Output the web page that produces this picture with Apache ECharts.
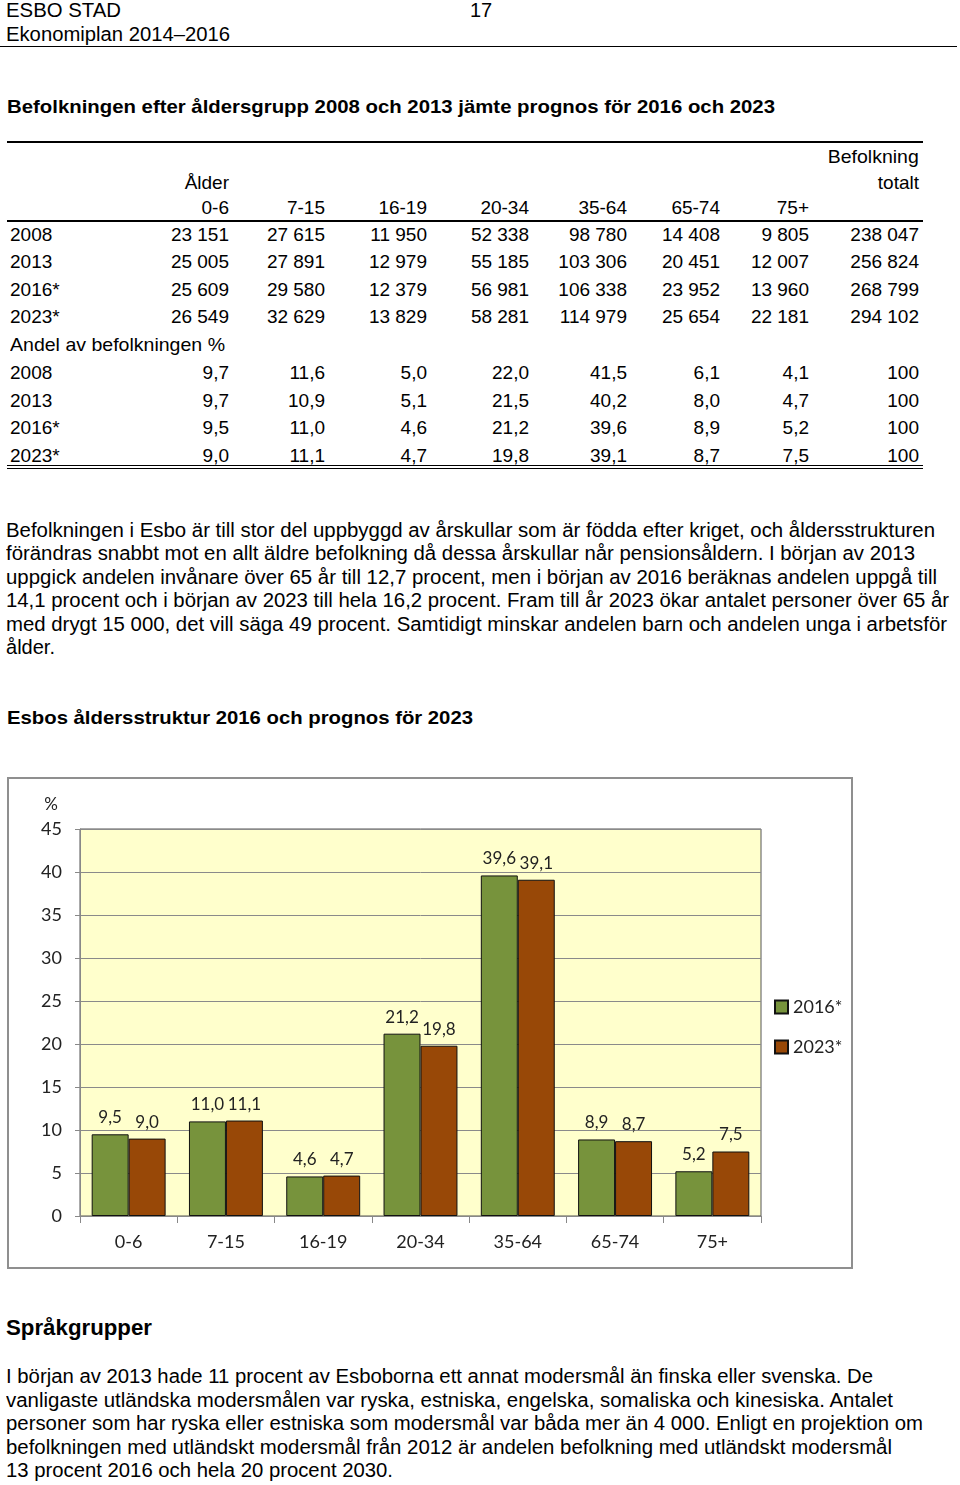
<!DOCTYPE html>
<html><head><meta charset="utf-8">
<script src="https://cdn.jsdelivr.net/npm/echarts@6/dist/echarts.min.js"></script>
<style>
html,body{margin:0;padding:0;background:#fff;}
body{width:960px;height:1485px;position:relative;overflow:hidden;font-family:"Liberation Sans",Arial,sans-serif;color:#000;}
.t{position:absolute;white-space:nowrap;}
.hl{position:absolute;background:#000;}
#chartBox{position:absolute;left:7px;top:777px;width:846px;height:492px;box-sizing:border-box;border:2px solid #8f8f8f;}
#chart{position:absolute;left:7px;top:777px;width:846px;height:492px;}
</style></head>
<body>
<div id="chart"></div>
<div id="chartBox"></div>
<script>
// ---------- data ----------
const ageGroups = ['0-6','7-15','16-19','20-34','35-64','65-74','75+'];
const tableYears = ['2008','2013','2016*','2023*'];
const counts2008 = ['23 151','27 615','11 950','52 338','98 780','14 408','9 805','238 047'];
const counts2013 = ['25 005','27 891','12 979','55 185','103 306','20 451','12 007','256 824'];
const counts2016 = ['25 609','29 580','12 379','56 981','106 338','23 952','13 960','268 799'];
const counts2023 = ['26 549','32 629','13 829','58 281','114 979','25 654','22 181','294 102'];
const share2008 = ['9,7','11,6','5,0','22,0','41,5','6,1','4,1','100'];
const share2013 = ['9,7','10,9','5,1','21,5','40,2','8,0','4,7','100'];
const share2016 = ['9,5','11,0','4,6','21,2','39,6','8,9','5,2','100'];
const share2023 = ['9,0','11,1','4,7','19,8','39,1','8,7','7,5','100'];
const seriesNames = ['2016*','2023*'];
const values2016 = [9.5, 11.0, 4.6, 21.2, 39.6, 8.9, 5.2];
const values2023 = [9.0, 11.1, 4.7, 19.8, 39.1, 8.7, 7.5];
const yTicks = {min:0, max:45, interval:5};

// ---------- page text ----------
function txt(s, x, yc, size, o){
  o = o || {};
  const d = document.createElement('div');
  d.className = 't';
  d.textContent = s;
  const lh = Math.round(size*1.2);
  d.style.fontSize = size+'px';
  d.style.lineHeight = lh+'px';
  d.style.top = (yc - lh/2)+'px';
  if (o.bold) d.style.fontWeight = 'bold';
  if (o.right){ d.style.right = (960 - x)+'px'; d.style.textAlign='right'; }
  else d.style.left = x+'px';
  document.body.appendChild(d);
  if (o.w){
    const w = d.getBoundingClientRect().width;
    d.style.transformOrigin = o.right ? 'right center' : 'left center';
    d.style.transform = 'scaleX('+(o.w/w)+')';
  }
  return d;
}
function hline(x, y, w, h){
  const d = document.createElement('div');
  d.className='hl';
  d.style.left=x+'px'; d.style.top=y+'px'; d.style.width=w+'px'; d.style.height=h+'px';
  document.body.appendChild(d);
}

txt('ESBO STAD', 6, 10, 20, {w:115});
txt('17', 470, 10, 20);
txt('Ekonomiplan 2014–2016', 6, 34, 20, {w:224});
hline(0, 46, 957, 1);

txt('Befolkningen efter åldersgrupp 2008 och 2013 jämte prognos för 2016 och 2023', 7, 106, 19, {bold:true, w:768});

// table
hline(7, 141, 916, 2);
hline(7, 220, 916, 2);
hline(7, 465, 916, 1);
hline(7, 468, 916, 1);
const colRight = [229, 325, 427, 529, 627, 720, 809, 919];
txt('Befolkning', 919, 156, 19, {right:true, w:91});
txt('totalt', 919, 182, 19, {right:true});
txt('Ålder', 229, 182, 19, {right:true});
ageGroups.forEach((g,i)=>txt(g, colRight[i], 207, 19, {right:true}));
const countRows = [counts2008, counts2013, counts2016, counts2023];
const shareRows = [share2008, share2013, share2016, share2023];
const countY = [234, 261, 289, 316];
const shareY = [372, 400, 427, 455];
countRows.forEach((row,r)=>{
  txt(tableYears[r], 10, countY[r], 19);
  row.forEach((v,i)=>txt(v, colRight[i], countY[r], 19, {right:true}));
});
txt('Andel av befolkningen %', 10, 344, 19, {w:215});
shareRows.forEach((row,r)=>{
  txt(tableYears[r], 10, shareY[r], 19);
  row.forEach((v,i)=>txt(v, colRight[i], shareY[r], 19, {right:true}));
});

const para1 = [
 'Befolkningen i Esbo är till stor del uppbyggd av årskullar som är födda efter kriget, och åldersstrukturen',
 'förändras snabbt mot en allt äldre befolkning då dessa årskullar når pensionsåldern. I början av 2013',
 'uppgick andelen invånare över 65 år till 12,7 procent, men i början av 2016 beräknas andelen uppgå till',
 '14,1 procent och i början av 2023 till hela 16,2 procent. Fram till år 2023 ökar antalet personer över 65 år',
 'med drygt 15 000, det vill säga 49 procent. Samtidigt minskar andelen barn och andelen unga i arbetsför',
 'ålder.'
];
const para1Y = [530, 553, 577, 600, 624, 647];
const para1W = [929, 909, 931, 943, 941, 49];
para1.forEach((s,i)=>txt(s, 6, para1Y[i], 20, {w:para1W[i]}));

txt('Esbos åldersstruktur 2016 och prognos för 2023', 7, 717, 19, {bold:true, w:466});
txt('Språkgrupper', 6, 1328, 22, {bold:true, w:146});

const para2 = [
 'I början av 2013 hade 11 procent av Esboborna ett annat modersmål än finska eller svenska. De',
 'vanligaste utländska modersmålen var ryska, estniska, engelska, somaliska och kinesiska. Antalet',
 'personer som har ryska eller estniska som modersmål var båda mer än 4 000. Enligt en projektion om',
 'befolkningen med utländskt modersmål från 2012 är andelen befolkning med utländskt modersmål',
 '13 procent 2016 och hela 20 procent 2030.'
];
const para2Y = [1376, 1400, 1423, 1447, 1470];
const para2W = [867, 887, 917, 886, 387];
para2.forEach((s,i)=>txt(s, 6, para2Y[i], 20, {w:para2W[i]}));

// ---------- chart ----------
const chart = echarts.init(document.getElementById('chart'), null, {renderer:'canvas'});
const fmt = p => p.value.toFixed(1).replace('.', ',');
const cfont = 'Lato, "Open Sans", sans-serif';
chart.setOption({
  animation:false,
  textStyle:{fontFamily:cfont},
  grid:{left:73, top:52, right:92, bottom:53, show:true, backgroundColor:'#FFFFCC', borderColor:'#555', borderWidth:1},
  legend:{
    orient:'vertical', left:762, top:216, itemWidth:13, itemHeight:13, itemGap:22,
    icon:'rect',
    textStyle:{fontFamily:cfont, fontSize:18, color:'#222'},
    data:seriesNames
  },
  xAxis:{
    type:'category', data:ageGroups,
    axisLine:{lineStyle:{color:'#888'}},
    axisTick:{show:true, length:7, lineStyle:{color:'#888'}},
    axisLabel:{fontFamily:cfont, fontSize:18, color:'#222', margin:17}
  },
  yAxis:{
    type:'value', min:yTicks.min, max:yTicks.max, interval:yTicks.interval,
    name:'%', nameLocation:'end', nameGap:16,
    nameTextStyle:{fontFamily:cfont, fontSize:17, color:'#222', align:'right', padding:[0,22,0,0]},
    axisLine:{show:true, lineStyle:{color:'#888'}},
    axisTick:{show:true, length:5, lineStyle:{color:'#888'}},
    splitLine:{lineStyle:{color:'#8a8a8a'}},
    axisLabel:{fontFamily:cfont, fontSize:18, color:'#222', margin:18}
  },
  series:[
    {name:seriesNames[0], type:'bar', data:values2016, barGap:'0%', barCategoryGap:'24%',
     itemStyle:{color:'#77933C', borderColor:'#111', borderWidth:1},
     label:{show:true, position:'top', distance:8, formatter:fmt, fontFamily:cfont, fontSize:17, color:'#222'}},
    {name:seriesNames[1], type:'bar', data:values2023, barGap:'0%', barCategoryGap:'24%',
     itemStyle:{color:'#984807', borderColor:'#111', borderWidth:1},
     label:{show:true, position:'top', distance:8, formatter:fmt, fontFamily:cfont, fontSize:17, color:'#222'}}
  ]
});
</script>
</body></html>
